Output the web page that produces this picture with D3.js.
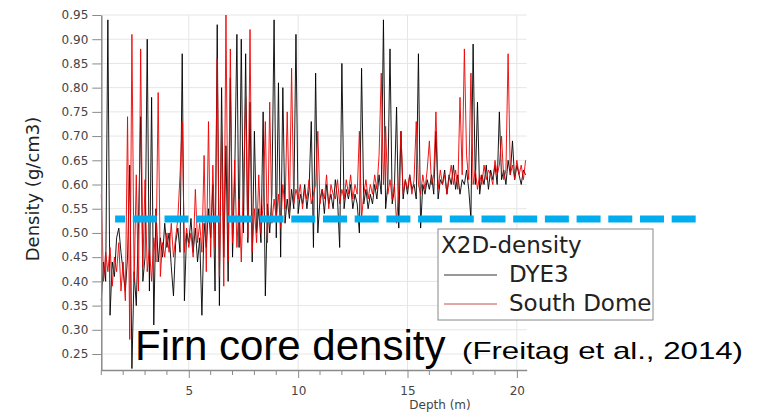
<!DOCTYPE html>
<html>
<head>
<meta charset="utf-8">
<script src="https://cdn.jsdelivr.net/npm/d3@7"></script>
<style>
  body { margin: 0; background: #fff; }
  svg { display: block; }
</style>
</head>
<body>
<div id="app"></div>
<script>
// depth grid: first sample at 1.0 m, one sample every 0.1 m
const depthStart = 1.0;
const depthStep = 0.1;

// DYE3 density (g/cm3), 1.0 m .. 20.4 m
const dye3 = [
  0.36, 0.44, 0.40, 0.94, 0.33, 0.44, 0.41, 0.49, 0.51, 0.46,
  0.42, 0.38, 0.45, 0.64, 0.22, 0.42, 0.35, 0.52, 0.74, 0.40,
  0.45, 0.90, 0.38, 0.78, 0.31, 0.55, 0.44, 0.49, 0.45, 0.52,
  0.47, 0.50, 0.43, 0.37, 0.48, 0.51, 0.46, 0.87, 0.36, 0.50,
  0.48, 0.53, 0.46, 0.51, 0.44, 0.49, 0.33, 0.52, 0.47, 0.55,
  0.49, 0.60, 0.38, 0.93, 0.35, 0.80, 0.45, 0.68, 0.40, 0.82,
  0.45, 0.62, 0.91, 0.47, 0.90, 0.50, 0.87, 0.48, 0.77, 0.44,
  0.71, 0.50, 0.55, 0.48, 0.75, 0.37, 0.56, 0.50, 0.58, 0.94,
  0.49, 0.81, 0.45, 0.80, 0.52, 0.57, 0.53, 0.59, 0.55, 0.91,
  0.54, 0.58, 0.56, 0.60, 0.55, 0.59, 0.73, 0.47, 0.83, 0.50,
  0.57, 0.59, 0.54, 0.60, 0.56, 0.58, 0.55, 0.61, 0.57, 0.47,
  0.85, 0.55, 0.59, 0.57, 0.60, 0.55, 0.58, 0.56, 0.50, 0.84,
  0.56, 0.59, 0.55, 0.58, 0.56, 0.60, 0.57, 0.62, 0.58, 0.94,
  0.55, 0.60, 0.88, 0.56, 0.59, 0.76, 0.51, 0.71, 0.57, 0.61,
  0.58, 0.62, 0.59, 0.60, 0.57, 0.87, 0.51, 0.60, 0.58, 0.61,
  0.59, 0.62, 0.58, 0.71, 0.57, 0.61, 0.60, 0.63, 0.58, 0.62,
  0.60, 0.64, 0.59, 0.62, 0.58, 0.61, 0.60, 0.63, 0.59, 0.53,
  0.89, 0.60, 0.77, 0.58, 0.62, 0.60, 0.64, 0.59, 0.63, 0.61,
  0.64, 0.60, 0.75, 0.61, 0.63, 0.60, 0.65, 0.62, 0.69, 0.61,
  0.64, 0.62, 0.60, 0.63, 0.62
];

// South Dome density (g/cm3), same depth grid
const southDome = [
  0.58, 0.40, 0.46, 0.42, 0.47, 0.39, 0.45, 0.42, 0.48, 0.38,
  0.44, 0.36, 0.74, 0.28, 0.91, 0.40, 0.62, 0.38, 0.88, 0.43,
  0.61, 0.42, 0.47, 0.40, 0.49, 0.44, 0.79, 0.41, 0.48, 0.45,
  0.50, 0.46, 0.52, 0.45, 0.49, 0.53, 0.62, 0.73, 0.46, 0.51,
  0.47, 0.50, 0.45, 0.59, 0.48, 0.52, 0.46, 0.66, 0.42, 0.73,
  0.45, 0.64, 0.47, 0.86, 0.41, 0.71, 0.39, 0.95, 0.44, 0.88,
  0.48, 0.65, 0.47, 0.57, 0.44, 0.60, 0.78, 0.49, 0.92, 0.46,
  0.55, 0.48, 0.62, 0.50, 0.56, 0.73, 0.48, 0.77, 0.52, 0.57,
  0.53, 0.58, 0.51, 0.60, 0.55, 0.75, 0.54, 0.84, 0.56, 0.59,
  0.57, 0.60, 0.55, 0.59, 0.57, 0.61, 0.56, 0.58, 0.60, 0.71,
  0.56, 0.59, 0.57, 0.62, 0.55, 0.60, 0.58, 0.57, 0.61, 0.56,
  0.59, 0.57, 0.61, 0.58, 0.62, 0.57, 0.60, 0.58, 0.71, 0.53,
  0.58, 0.61, 0.57, 0.60, 0.58, 0.62, 0.59, 0.66, 0.83, 0.60,
  0.72, 0.58, 0.61, 0.57, 0.60, 0.52, 0.59, 0.71, 0.58, 0.61,
  0.59, 0.62, 0.58, 0.61, 0.73, 0.60, 0.58, 0.62, 0.59, 0.63,
  0.69, 0.60, 0.62, 0.75, 0.59, 0.63, 0.60, 0.62, 0.58, 0.61,
  0.64, 0.60, 0.63, 0.59, 0.78, 0.62, 0.88, 0.66, 0.61, 0.83,
  0.60, 0.63, 0.59, 0.62, 0.60, 0.64, 0.61, 0.63, 0.62, 0.60,
  0.65, 0.62, 0.64, 0.70, 0.61, 0.63, 0.87, 0.62, 0.64, 0.61,
  0.65, 0.62, 0.64, 0.61, 0.65
];

const yTicks = [0.25, 0.30, 0.35, 0.40, 0.45, 0.50, 0.55, 0.60, 0.65, 0.70, 0.75, 0.80, 0.85, 0.90, 0.95];
const xMajorTicks = [5, 10, 15, 20];
const xMinorTicks = [1, 2, 3, 4, 6, 7, 8, 9, 11, 12, 13, 14, 16, 17, 18, 19];
const thresholdDensity = 0.529;
const seriesNames = ['DYE3', 'South Dome'];
const seriesColors = ['#000000', '#ee0000'];
const legendLineColors = ['#333333', '#c0504d'];

const w = 771;
const h = 415;

const xScale = d3.scaleLinear()
  .domain([1, 20.45])
  .range([101.3, 526.7]);

const yScale = d3.scaleLinear()
  .domain([0.217, 0.95])
  .range([370, 15]);

const svg = d3.select('#app')
  .append('svg')
  .attr('width', w)
  .attr('height', h)
  .style('background', '#fff');

// grid
svg.append('g')
  .selectAll('line')
  .data(yTicks)
  .enter()
  .append('line')
  .attr('x1', xScale(1))
  .attr('x2', xScale(20.45))
  .attr('y1', (d) => yScale(d))
  .attr('y2', (d) => yScale(d))
  .attr('stroke', '#e6e6e6')
  .attr('stroke-width', 1);

svg.append('g')
  .selectAll('line')
  .data(xMajorTicks)
  .enter()
  .append('line')
  .attr('x1', (d) => xScale(d))
  .attr('x2', (d) => xScale(d))
  .attr('y1', yScale(0.95))
  .attr('y2', yScale(0.217))
  .attr('stroke', '#e6e6e6')
  .attr('stroke-width', 1);

// data
const line = d3.line()
  .x((d, i) => xScale(depthStart + i * depthStep))
  .y((d) => yScale(d));

[dye3, southDome].forEach((series, k) => {
  svg.append('path')
    .datum(series)
    .attr('d', line)
    .attr('fill', 'none')
    .attr('stroke', seriesColors[k])
    .attr('stroke-width', 1)
    .attr('stroke-opacity', 0.9)
    .attr('stroke-linejoin', 'miter');
});

// axes
const yAxis = d3.axisLeft(yScale)
  .tickValues(yTicks)
  .tickFormat(d3.format('.2f'))
  .tickSize(9)
  .tickSizeOuter(0)
  .tickPadding(4);

const yG = svg.append('g')
  .attr('transform', 'translate(' + xScale(1) + ',0)')
  .call(yAxis);

const xAxis = d3.axisBottom(xScale)
  .tickValues(xMajorTicks)
  .tickSize(8)
  .tickSizeOuter(0)
  .tickPadding(8);

const xG = svg.append('g')
  .attr('transform', 'translate(0,' + yScale(0.217) + ')')
  .call(xAxis);

xG.selectAll('.minor')
  .data(xMinorTicks)
  .enter()
  .append('line')
  .attr('class', 'minor')
  .attr('x1', (d) => xScale(d))
  .attr('x2', (d) => xScale(d))
  .attr('y1', 0)
  .attr('y2', 5)
  .attr('stroke', '#8a8a8a');

[yG, xG].forEach((g) => {
  g.select('.domain').attr('stroke', '#8a8a8a').attr('stroke-width', 1.5);
  g.selectAll('.tick line').attr('stroke', '#8a8a8a');
  g.selectAll('text')
    .attr('fill', '#444')
    .style('font-family', 'DejaVu Sans, sans-serif')
    .style('font-size', '12px');
});

svg.append('text')
  .attr('transform', 'rotate(-90)')
  .attr('x', -189)
  .attr('y', 39)
  .style('text-anchor', 'middle')
  .style('font-family', 'DejaVu Sans, sans-serif')
  .style('font-size', '18px')
  .attr('fill', '#222')
  .text('Density (g/cm3)');

svg.append('text')
  .attr('x', 440)
  .attr('y', 409)
  .style('text-anchor', 'middle')
  .style('font-family', 'DejaVu Sans, sans-serif')
  .style('font-size', '12px')
  .attr('fill', '#444')
  .text('Depth (m)');

// blue dashed reference
svg.append('line')
  .attr('x1', xScale(1.63))
  .attr('x2', xScale(28.38))
  .attr('y1', yScale(thresholdDensity))
  .attr('y2', yScale(thresholdDensity))
  .attr('stroke', '#00aeef')
  .attr('stroke-width', 7)
  .attr('stroke-dasharray', '24 7.7')
  .attr('stroke-dashoffset', 14);

// legend
const legend = svg.append('g').attr('transform', 'translate(438,229)');

legend.append('rect')
  .attr('width', 215)
  .attr('height', 91)
  .attr('fill', '#fff')
  .attr('stroke', '#888')
  .attr('stroke-width', 1);

legend.append('text')
  .attr('x', 3)
  .attr('y', 24)
  .style('font-family', 'DejaVu Sans, sans-serif')
  .style('font-size', '23px')
  .attr('fill', '#222')
  .text('X2D-density');

seriesNames.forEach((name, k) => {
  const ly = 46 + k * 29;
  legend.append('line')
    .attr('x1', 6)
    .attr('x2', 59)
    .attr('y1', ly)
    .attr('y2', ly)
    .attr('stroke', legendLineColors[k])
    .attr('stroke-width', 1);
  legend.append('text')
    .attr('x', 71)
    .attr('y', ly + 7)
    .style('font-family', 'DejaVu Sans, sans-serif')
    .style('font-size', '23px')
    .attr('fill', '#222')
    .text(name);
});

// caption
svg.append('text')
  .attr('x', 135)
  .attr('y', 360)
  .style('font-family', 'Liberation Sans, Arial, sans-serif')
  .style('font-size', '42px')
  .attr('fill', '#000')
  .text('Firn core density');

svg.append('text')
  .attr('x', 462)
  .attr('y', 359)
  .attr('textLength', 281)
  .attr('lengthAdjust', 'spacingAndGlyphs')
  .style('font-family', 'Liberation Sans, Arial, sans-serif')
  .style('font-size', '24px')
  .attr('fill', '#000')
  .text('(Freitag et al., 2014)');
</script>
</body>
</html>
